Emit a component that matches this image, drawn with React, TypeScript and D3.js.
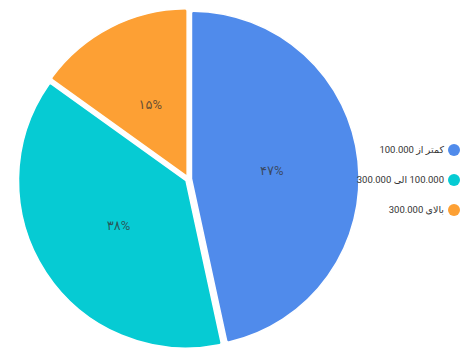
import React from "react";
import * as d3 from "d3";

const categories = ["کمتر از 100.000", "100.000 الی 300.000", "بالای 300.000"];
const values = [46.6, 38.3, 15.1];
const labels = ["۴۷%", "۳۸%", "۱۵%"];
const colors = ["#508BEB", "#06CBD3", "#FDA034"];

export default function App() {
  const W = 469, H = 357;
  const cx = 188.5, cy = 179, r = 167.5, offset = 3;
  const pie = d3.pie<number>().sort(null).value((d) => d);
  const arcs = pie(values);
  const arc = d3.arc<d3.PieArcDatum<number>>()
    .innerRadius(0)
    .outerRadius(r)
    .cornerRadius(2);
  const labelArc = d3.arc<d3.PieArcDatum<number>>().innerRadius(r / 2).outerRadius(r / 2);
  const legendY = d3.scalePoint<string>().domain(categories).range([150, 210]);
  return (
    <svg width={W} height={H} style={{ position: "absolute", left: 0, top: 0 }} fontFamily="Roboto, 'DejaVu Sans', sans-serif">
      <rect width={W} height={H} fill="#fff" />
      <g transform={`translate(${cx},${cy})`}>
        {arcs.map((a, i) => {
          const mid = (a.startAngle + a.endAngle) / 2;
          const dx = Math.sin(mid) * offset, dy = -Math.cos(mid) * offset;
          return (
            <path key={i} transform={`translate(${dx},${dy})`} d={arc(a) || ""} fill={colors[i]} stroke="#fff" strokeWidth={1.5} strokeLinejoin="round" />
          );
        })}
        {arcs.map((a, i) => {
          const [x, y] = labelArc.centroid(a);
          return (
            <text key={i} x={x} y={y} dy="0.35em" textAnchor="middle" fontSize={13} fill="#333" fillOpacity={0.75}>
              {labels[i]}
            </text>
          );
        })}
      </g>
      {categories.map((c, i) => (
        <g key={i}>
          <circle cx={454} cy={legendY(c)} r={6} fill={colors[i]} />
          <text x={444} y={legendY(c)} dy="0.35em" direction="rtl" textAnchor="start" fontSize={9.5} fill="#333">
            {c}
          </text>
        </g>
      ))}
    </svg>
  );
}
